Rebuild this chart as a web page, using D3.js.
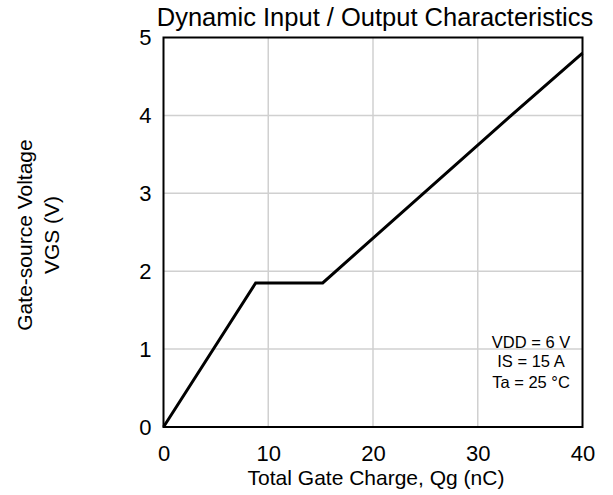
<!DOCTYPE html>
<html><head><meta charset="utf-8">
<script src="https://cdn.jsdelivr.net/npm/d3@7"></script>
<style>body{margin:0;background:#fff}text{font-family:"Liberation Sans",Arial,sans-serif;fill:#000}</style>
</head><body><svg id="c" width="613" height="495"></svg>
<script>
const qg = [0, 8.8, 15.2, 33.2, 40];
const vgs = [0, 1.85, 1.85, 4.0, 4.8];
const xTicks = [0, 10, 20, 30, 40];
const yTicks = [0, 1, 2, 3, 4, 5];
const notes = ["VDD = 6 V", "IS = 15 A", "Ta = 25 °C"];

const FONT = '"Liberation Sans",Arial,sans-serif';
const svg = d3.select("#c");
const m = {l:163.5, r:582.5, t:37.5, b:427};
const x = d3.scaleLinear().domain([0,40]).range([m.l, m.r]);
const y = d3.scaleLinear().domain([0,5]).range([m.b, m.t]);

// grid
svg.append("g").selectAll("line").data(xTicks.slice(1,-1)).join("line")
  .attr("x1", d=>x(d)).attr("x2", d=>x(d)).attr("y1", m.t).attr("y2", m.b)
  .attr("stroke", "#d0d0d0").attr("stroke-width", 1.5);
svg.append("g").selectAll("line").data(yTicks.slice(1,-1)).join("line")
  .attr("x1", m.l).attr("x2", m.r).attr("y1", d=>y(d)).attr("y2", d=>y(d))
  .attr("stroke", "#d0d0d0").attr("stroke-width", 1.5);

// frame
svg.append("rect").attr("x", m.l).attr("y", m.t).attr("width", m.r-m.l).attr("height", m.b-m.t)
  .attr("fill", "none").attr("stroke", "#000").attr("stroke-width", 2);

// axes labels via d3 axis
const xa = svg.append("g").attr("transform", `translate(0,${m.b})`)
  .call(d3.axisBottom(x).tickValues(xTicks).tickFormat(d3.format("d")).tickSize(0).tickPadding(18));
xa.select(".domain").remove();
xa.attr("font-size", 22).attr("font-family", FONT);
xa.selectAll("text").attr("fill","#000");
const ya = svg.append("g").attr("transform", `translate(${m.l},0)`)
  .call(d3.axisLeft(y).tickValues(yTicks).tickFormat(d3.format("d")).tickSize(0).tickPadding(12));
ya.select(".domain").remove();
ya.attr("font-size", 22).attr("font-family", FONT);
ya.selectAll("text").attr("fill","#000");

// line
const pts = qg.map((q,i)=>[q, vgs[i]]);
svg.append("path").datum(pts)
  .attr("d", d3.line().x(d=>x(d[0])).y(d=>y(d[1])))
  .attr("fill", "none").attr("stroke", "#000").attr("stroke-width", 3).attr("stroke-linejoin","miter");

// titles
svg.append("text").attr("x", 375).attr("y", 26).attr("text-anchor","middle").attr("font-size", 25.5)
  .text("Dynamic Input / Output Characteristics");
svg.append("text").attr("x", 376).attr("y", 485).attr("text-anchor","middle").attr("font-size", 21)
  .text("Total Gate Charge, Qg (nC)");
const yt = svg.append("text").attr("transform", "translate(32,235) rotate(-90)").attr("text-anchor","middle").attr("font-size", 21);
yt.append("tspan").attr("x", 0).attr("dy", 0).text("Gate-source Voltage");
yt.append("tspan").attr("x", 0).attr("dy", 27).text("VGS (V)");

// notes
svg.append("g").selectAll("text").data(notes).join("text")
  .attr("x", 531).attr("y", (d,i)=>[348, 367, 388][i]).attr("text-anchor","middle").attr("font-size", 16.5)
  .text(d=>d);
</script></body></html>
